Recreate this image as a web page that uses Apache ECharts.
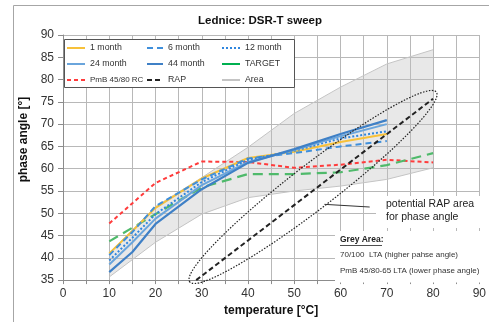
<!DOCTYPE html>
<html>
<head>
<meta charset="utf-8">
<script src="https://cdn.jsdelivr.net/npm/echarts@6.0.0/dist/echarts.min.js"></script>
<style>
  html, body { margin: 0; padding: 0; background: #fff; }
  #chart { width: 489px; height: 322px; }
</style>
</head>
<body>
<div id="chart"></div>
<script>
// temperatures [°C]
const temps = [10, 15, 20, 30, 40, 50, 60, 70];
const temps80 = [10, 20, 30, 40, 50, 60, 70, 80];

// phase angle [°] per ageing step
const month1 = [41.0, 46.0, 51.2, 57.8, 62.4, 63.8, 66.0, 67.8];
const month6 = [40.6, 45.8, 51.6, 57.6, 62.3, 63.5, 65.0, 66.2];
const month12 = [39.4, 44.5, 49.8, 57.0, 62.0, 64.0, 66.8, 68.4];
const month24 = [38.5, 43.5, 48.8, 56.3, 61.5, 64.2, 67.3, 70.0];
const month44 = [36.8, 41.3, 47.6, 55.4, 61.3, 64.4, 67.8, 70.9];

const pmbRC = [47.7, 56.8, 61.6, 61.5, 60.2, 60.9, 62.0, 61.4];
const target = [43.7, 49.8, 55.8, 58.8, 58.8, 59.2, 60.8, 63.5];

// grey area (PmB 45/80-65 LTA low, 70/100 LTA high)
const areaLow = [35.7, 43.5, 49.8, 53.5, 55.0, 56.1, 57.6, 60.2];
const areaHigh = [41.0, 51.5, 58.0, 64.8, 72.4, 78.3, 83.5, 86.7];

// RAP line
const rapTemps = [28.8, 80];
const rapAngle = [35.0, 75.7];

// potential RAP area ellipse (tips in data units)
const ellipseTips = [[27.4, 34.6], [80.7, 77.2]];

const xMin = 0, xMax = 90, xStep = 5;
const yMin = 35, yMax = 90, yStep = 5;

const pair = (xs, ys) => xs.map((x, i) => [x, ys[i]]);

const chart = echarts.init(document.getElementById('chart'));
const font = 'Liberation Sans, Arial, sans-serif';

const lineSeries = (name, xs, ys, color, type, width) => ({
    name: name,
    type: 'line',
    data: pair(xs, ys),
    showSymbol: false,
    symbol: 'none',
    z: 3,
    lineStyle: { color: color, type: type, width: width || 2 },
    itemStyle: { color: color }
});

const legendBase = {
    orient: 'vertical',
    top: 43,
    padding: 0,
    itemWidth: 18,
    itemHeight: 10,
    itemGap: 6,
    selectedMode: false,
    itemStyle: { opacity: 0 },
    textStyle: { fontSize: 8.8, color: '#333', fontFamily: font, lineHeight: 10 }
};

chart.setOption({
    animation: false,
    title: {
        text: 'Lednice: DSR-T sweep',
        left: 193,
        top: 10,
        textStyle: { fontSize: 11.5, fontWeight: 'bold', color: '#111', fontFamily: font }
    },
    legend: [
        Object.assign({}, legendBase, { left: 66, data: ['1 month', '24 month', {name: 'PmB 45/80 RC', textStyle: {fontSize: 8}}] }),
        Object.assign({}, legendBase, { left: 146, itemWidth: 16, data: ['6 month', '44 month', 'RAP'] }),
        Object.assign({}, legendBase, { left: 221, data: ['12 month', {name: 'TARGET', lineStyle: {type: 'solid', color: '#00b050'}}, 'Area'] })
    ],
    grid: { left: 63, top: 35, width: 428, bottom: 39 },
    xAxis: {
        type: 'value',
        min: xMin, max: xMax, interval: xStep,
        name: 'temperature [°C]',
        nameLocation: 'middle',
        nameGap: 24,
        nameTextStyle: { fontSize: 12, fontWeight: 'bold', color: '#111', fontFamily: font },
        axisLine: { show: true, lineStyle: { color: '#8c8c8c' } },
        axisTick: { show: true, length: 4, lineStyle: { color: '#8c8c8c' } },
        axisLabel: {
            fontSize: 12, color: '#333', fontFamily: font, margin: 8,
            formatter: v => (v % 10 === 0 ? String(v) : '')
        },
        splitLine: { show: true, lineStyle: { color: '#b8b8b8', width: 1 } }
    },
    yAxis: {
        type: 'value',
        min: yMin, max: yMax, interval: yStep,
        name: 'phase angle [°]',
        nameLocation: 'middle',
        nameGap: 33,
        nameTextStyle: { fontSize: 12, fontWeight: 'bold', color: '#111', fontFamily: font, padding: [0, 0, 0, 36] },
        axisLine: { show: true, lineStyle: { color: '#8c8c8c' } },
        axisTick: { show: true, length: 5, lineStyle: { color: '#8c8c8c' } },
        axisLabel: { fontSize: 12, color: '#333', fontFamily: font, margin: 9 },
        splitLine: { show: true, lineStyle: { color: '#b8b8b8', width: 1 } }
    },
    series: [
        {
            // grey band fill between the two area bounds
            name: 'Area fill',
            type: 'custom',
            z: 1,
            silent: true,
            clip: true,
            data: [0],
            renderItem: function (params, api) {
                const top = pair(temps80, areaHigh).map(p => api.coord(p));
                const bottom = pair(temps80, areaLow).map(p => api.coord(p)).reverse();
                return {
                    type: 'polygon',
                    shape: { points: top.concat(bottom) },
                    style: { fill: 'rgba(190,190,190,0.35)', stroke: 'none' }
                };
            }
        },
        {
            name: 'Area low',
            type: 'line',
            data: pair(temps80, areaLow),
            symbol: 'none',
            z: 1,
            lineStyle: { color: '#c4c4c4', width: 1 }
        },
        {
            name: 'Area',
            type: 'line',
            data: pair(temps80, areaHigh),
            symbol: 'none',
            z: 1,
            lineStyle: { color: '#c4c4c4', width: 1 },
            itemStyle: { color: '#c4c4c4' }
        },
        lineSeries('PmB 45/80 RC', temps80, pmbRC, '#ff3b3b', [4, 3], 2),
        lineSeries('TARGET', temps80, target, '#4fba6b', [10, 6], 2.2),
        lineSeries('1 month', temps, month1, '#f7c13a', 'solid', 2),
        lineSeries('6 month', temps, month6, '#3f8fdb', [6, 4], 2),
        lineSeries('12 month', temps, month12, '#2f86de', [2, 2], 2),
        lineSeries('24 month', temps, month24, '#6aa5dc', 'solid', 2),
        lineSeries('44 month', temps, month44, '#3f80c6', 'solid', 2.2),
        lineSeries('RAP', rapTemps, rapAngle, '#222222', [5, 3], 2)
    ]
});

// annotations placed from data coordinates
const toPx = p => chart.convertToPixel({ gridIndex: 0 }, p);
const tipA = toPx(ellipseTips[0]);
const tipB = toPx(ellipseTips[1]);
const ecx = (tipA[0] + tipB[0]) / 2;
const ecy = (tipA[1] + tipB[1]) / 2;
const erx = Math.hypot(tipB[0] - tipA[0], tipB[1] - tipA[1]) / 2;
const erot = Math.atan2(tipA[1] - tipB[1], tipB[0] - tipA[0]);
const lead0 = toPx([56.5, 52.0]);
const lead1 = toPx([66.3, 51.4]);

chart.setOption({
    graphic: [
        { type: 'rect', z: -1, silent: true, shape: { x: 13.5, y: 5.5, width: 520, height: 340 },
          style: { fill: 'none', stroke: '#a6a6a6', lineWidth: 1 } },
        { type: 'rect', z: 1, silent: true, shape: { x: 64.5, y: 39.5, width: 230, height: 48 },
          style: { fill: '#fff', stroke: '#555', lineWidth: 1 } },
        { type: 'rect', z: 1, silent: true, shape: { x: 376, y: 196, width: 113, height: 32 },
          style: { fill: '#fff' } },
        { type: 'rect', z: 1, silent: true, shape: { x: 335, y: 231, width: 154, height: 51.5 },
          style: { fill: '#fff' } },
        { type: 'ellipse', z: 5, silent: true, x: ecx, y: ecy, rotation: erot,
          shape: { cx: 0, cy: 0, rx: erx, ry: 22 },
          style: { fill: 'none', stroke: '#222', lineWidth: 1.2, lineDash: [1.5, 1.5] } },
        { type: 'line', z: 5, silent: true,
          shape: { x1: lead0[0], y1: lead0[1], x2: lead1[0], y2: lead1[1] },
          style: { stroke: '#333', lineWidth: 1 } },
        { type: 'text', z: 6, silent: true, x: 386, y: 198,
          style: { text: 'potential RAP area\nfor phase angle', fontSize: 10.5, lineHeight: 12.5,
                   fill: '#222', fontFamily: font } },
        { type: 'text', z: 6, silent: true, x: 340, y: 235,
          style: { text: 'Grey Area:', fontSize: 8.5, fontWeight: 'bold', fill: '#222', fontFamily: font } },
        { type: 'line', z: 6, silent: true, shape: { x1: 340, y1: 245.5, x2: 382, y2: 245.5 },
          style: { stroke: '#222', lineWidth: 0.8 } },
        { type: 'text', z: 6, silent: true, x: 340, y: 251,
          style: { text: '70/100  LTA (higher pahse angle)', fontSize: 8, fill: '#333', fontFamily: font } },
        { type: 'text', z: 6, silent: true, x: 340, y: 266.5,
          style: { text: 'PmB 45/80-65 LTA (lower phase angle)', fontSize: 8, fill: '#333', fontFamily: font } }
    ]
});
</script>
</body>
</html>
